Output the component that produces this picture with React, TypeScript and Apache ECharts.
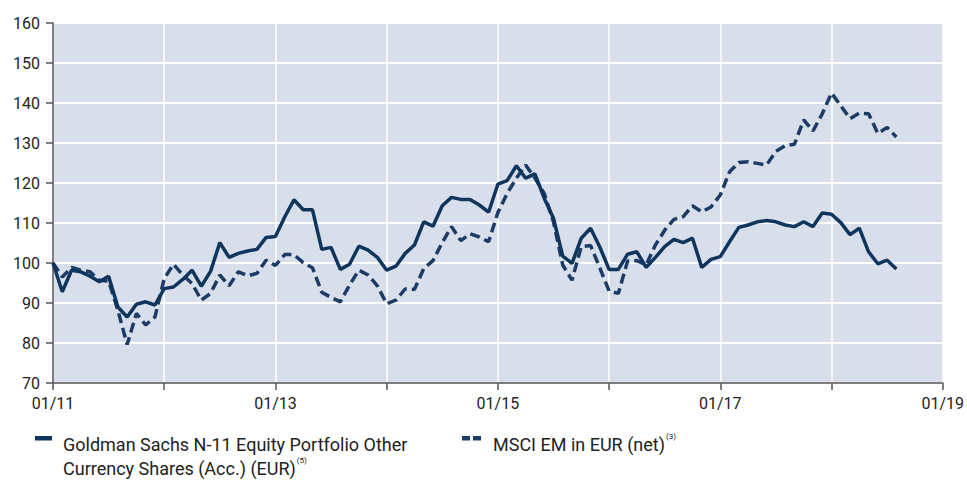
import React, { useEffect, useRef } from "react";
import * as echarts from "echarts";

// Monthly index values, month 0 = 01/2011
const fund: number[] = [
  100, 92.8, 98.2, 97.8, 96.7, 95.3, 96.7, 89.0, 86.5, 89.7, 90.3, 89.5,
  93.6, 94.0, 95.9, 98.2, 94.2, 97.9, 105.1, 101.4, 102.4, 103.0, 103.4, 106.4,
  106.6, 111.5, 115.8, 113.3, 113.3, 103.4, 103.9, 98.4, 99.7, 104.2, 103.2, 101.4,
  98.2, 99.2, 102.4, 104.5, 110.3, 109.2, 114.3, 116.4, 115.9, 115.9, 114.5, 112.7,
  119.7, 120.6, 124.3, 121.2, 122.3, 116.2, 111.2, 101.7, 99.9, 106.2, 108.7, 104.0,
  98.4, 98.4, 102.2, 102.8, 98.9, 101.4, 104.1, 105.9, 105.1, 106.2, 98.9, 100.9,
  101.6, 105.3, 108.9, 109.5, 110.3, 110.6, 110.3, 109.5, 109.1, 110.3, 109.1, 112.5,
  112.2, 110.1, 107.1, 108.7, 102.8, 99.8, 100.7, 98.5,
];

const msci: number[] = [
  100, 96.5, 98.9, 98.2, 97.8, 95.7, 95.5, 88.2, 79.6, 87.4, 84.5, 86.5,
  96.1, 99.7, 97.0, 94.9, 90.7, 92.4, 97.0, 94.3, 97.8, 96.8, 97.4, 100.7,
  99.4, 102.1, 102.1, 100.1, 98.8, 92.7, 91.4, 90.3, 94.5, 98.2, 97.0, 94.3,
  89.8, 90.7, 93.5, 93.4, 98.6, 100.6, 105.1, 109.1, 105.6, 107.3, 106.5, 105.3,
  112.6, 117.4, 121.2, 124.5, 121.2, 117.4, 110.3, 99.5, 95.7, 104.1, 104.4, 98.8,
  93.0, 92.4, 100.5, 100.6, 99.5, 104.5, 108.2, 110.9, 111.6, 114.3, 112.8, 114.0,
  117.0, 122.8, 125.1, 125.3, 124.9, 124.5, 127.9, 129.3, 129.7, 135.8, 133.0, 137.3,
  142.5, 139.3, 136.1, 137.5, 137.3, 132.4, 133.9, 131.5,
];

const startYear = 11;
const xMax = 96; // months to 01/19
const yMin = 70;
const yMax = 160;
const yStep = 10;

const fundLine1 = "Goldman Sachs N-11 Equity Portfolio Other";
const fundLine2 = "Currency Shares (Acc.) (EUR)";
const fundNote = "(5)";
const msciName = "MSCI EM in EUR (net)";
const msciNote = "(3)";

const FONT = "Roboto, 'Noto Sans', sans-serif";
const NAVY = "#0e355e";
const NAVY2 = "#1b3c69";
const TEXT = "#222222";

export default function App() {
  const ref = useRef<HTMLDivElement>(null);

  useEffect(() => {
    if (!ref.current) return;
    const chart = echarts.init(ref.current, undefined, { renderer: "svg" });
    const fundData = fund.map((v, i) => [i, v]);
    const msciData = msci.map((v, i) => [i, v]);
    const sup = { fontSize: 8, verticalAlign: "top", fill: TEXT, fontFamily: FONT, lineHeight: 24, padding: [0, 0, 8, 1] };

    chart.setOption({
      animation: false,
      textStyle: { fontFamily: FONT },
      grid: {
        left: 53,
        top: 23,
        width: 892,
        height: 360,
        show: true,
        backgroundColor: "#d9dfea",
        borderWidth: 0,
      },
      xAxis: {
        type: "value",
        min: 0,
        max: xMax,
        interval: 12,
        axisLine: { show: true, lineStyle: { color: "#555", width: 1.5 } },
        axisTick: { show: true, length: 7, lineStyle: { color: "#555", width: 1.5 } },
        axisLabel: {
          margin: 12,
          color: TEXT,
          fontFamily: FONT,
          fontSize: 16,
          formatter: (v: number) =>
            v % 24 === 0 ? "01/" + String(startYear + v / 12).padStart(2, "0") : "",
        },
        splitLine: { show: true, lineStyle: { color: "#ffffff", width: 1.5 } },
      },
      yAxis: {
        type: "value",
        min: yMin,
        max: yMax,
        interval: yStep,
        axisLine: { show: true, lineStyle: { color: "#555", width: 1.5 } },
        axisTick: { show: true, length: 7, lineStyle: { color: "#555", width: 1.5 } },
        axisLabel: { margin: 13, color: TEXT, fontFamily: FONT, fontSize: 16 },
        splitLine: { show: true, lineStyle: { color: "#ffffff", width: 2 } },
      },
      series: [
        {
          name: msciName,
          type: "line",
          data: msciData,
          symbol: "none",
          lineStyle: { color: NAVY2, width: 3.5, type: [10, 5] },
          z: 2,
        },
        {
          name: fundLine1 + " " + fundLine2,
          type: "line",
          data: fundData,
          symbol: "none",
          lineStyle: { color: NAVY, width: 3.5 },
          z: 3,
        },
      ],
      graphic: [
        { type: "rect", shape: { x: 35, y: 436, width: 17, height: 4.5 }, style: { fill: NAVY } },
        {
          type: "text",
          x: 63,
          y: 432,
          style: {
            text: fundLine1 + "\n" + fundLine2 + "{s|" + fundNote + "}",
            fill: TEXT,
            font: `18px ${FONT}`,
            lineHeight: 24,
            rich: { s: sup },
          },
        },
        { type: "rect", shape: { x: 462, y: 436, width: 8, height: 4.5 }, style: { fill: NAVY2 } },
        { type: "rect", shape: { x: 473, y: 436, width: 8, height: 4.5 }, style: { fill: NAVY2 } },
        {
          type: "text",
          x: 493,
          y: 432,
          style: {
            text: msciName + "{s|" + msciNote + "}",
            fill: TEXT,
            font: `18px ${FONT}`,
            lineHeight: 24,
            rich: { s: sup },
          },
        },
      ],
    });
    return () => chart.dispose();
  }, []);

  return (
    <div
      ref={ref}
      style={{ position: "absolute", left: 0, top: 0, width: 967, height: 481 }}
    />
  );
}
